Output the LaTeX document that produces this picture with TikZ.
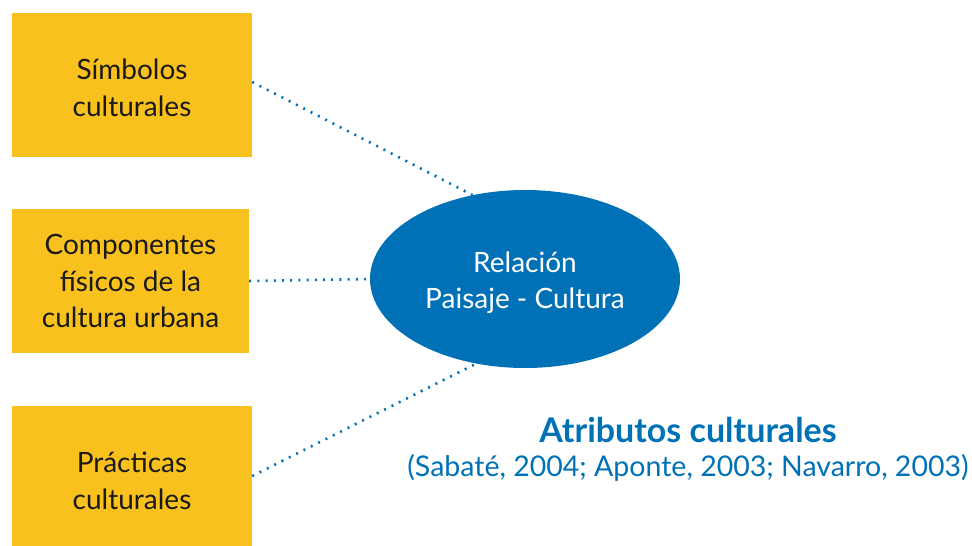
\documentclass[tikz,border=0pt]{standalone}
\usepackage{fontspec}
\setmainfont{Lato}
\usetikzlibrary{shapes.geometric}
\definecolor{boxyellow}{HTML}{F9C11E}
\definecolor{mainblue}{HTML}{0071B6}
\definecolor{textdark}{HTML}{1A1A1A}
\tikzset{
  ybox/.style={fill=boxyellow, draw=none, inner sep=0pt, align=center,
    text=textdark, font=\fontsize{28}{36.5}\selectfont},
  dotline/.style={mainblue, line width=2.6pt, dash pattern=on 2pt off 6.2pt},
}
\begin{document}
\begin{tikzpicture}[x=1pt,y=-1pt]
\useasboundingbox (0,0) rectangle (972,546);
\node[ybox, minimum width=240pt, minimum height=144pt] (b1) at (132,85) {\rule{0pt}{26pt}Símbolos\\culturales};
\node[ybox, minimum width=237pt, minimum height=144pt] (b2) at (130.5,281) {Componentes\\físicos de la\\cultura urbana};
\node[ybox, minimum width=240pt, minimum height=140pt] (b3) at (132,476) {\rule{0pt}{30pt}Prácticas\\culturales};
\node[ellipse, fill=mainblue, draw=none, minimum width=310pt, minimum height=178pt, inner sep=0pt] (ell) at (525,279) {};
\node[align=center, text=white, font=\fontsize{28}{36}\selectfont] (elltext) at (525,283) {Relación\\Paisaje - Cultura};
\draw[dotline] ([yshift=3pt]b1.east) -- (ell.122);
\draw[dotline] (b2.east) -- (ell.west);
\draw[dotline] (b3.east) -- (ell.240);
\node[text=mainblue, font=\fontsize{34}{36}\selectfont\bfseries] (title) at (688,430) {Atributos culturales};
\node[text=mainblue, font=\fontsize{28.5}{36}\selectfont] (cite) at (688,468) {(Sabaté, 2004; Aponte, 2003; Navarro, 2003)};
\end{tikzpicture}
\end{document}
